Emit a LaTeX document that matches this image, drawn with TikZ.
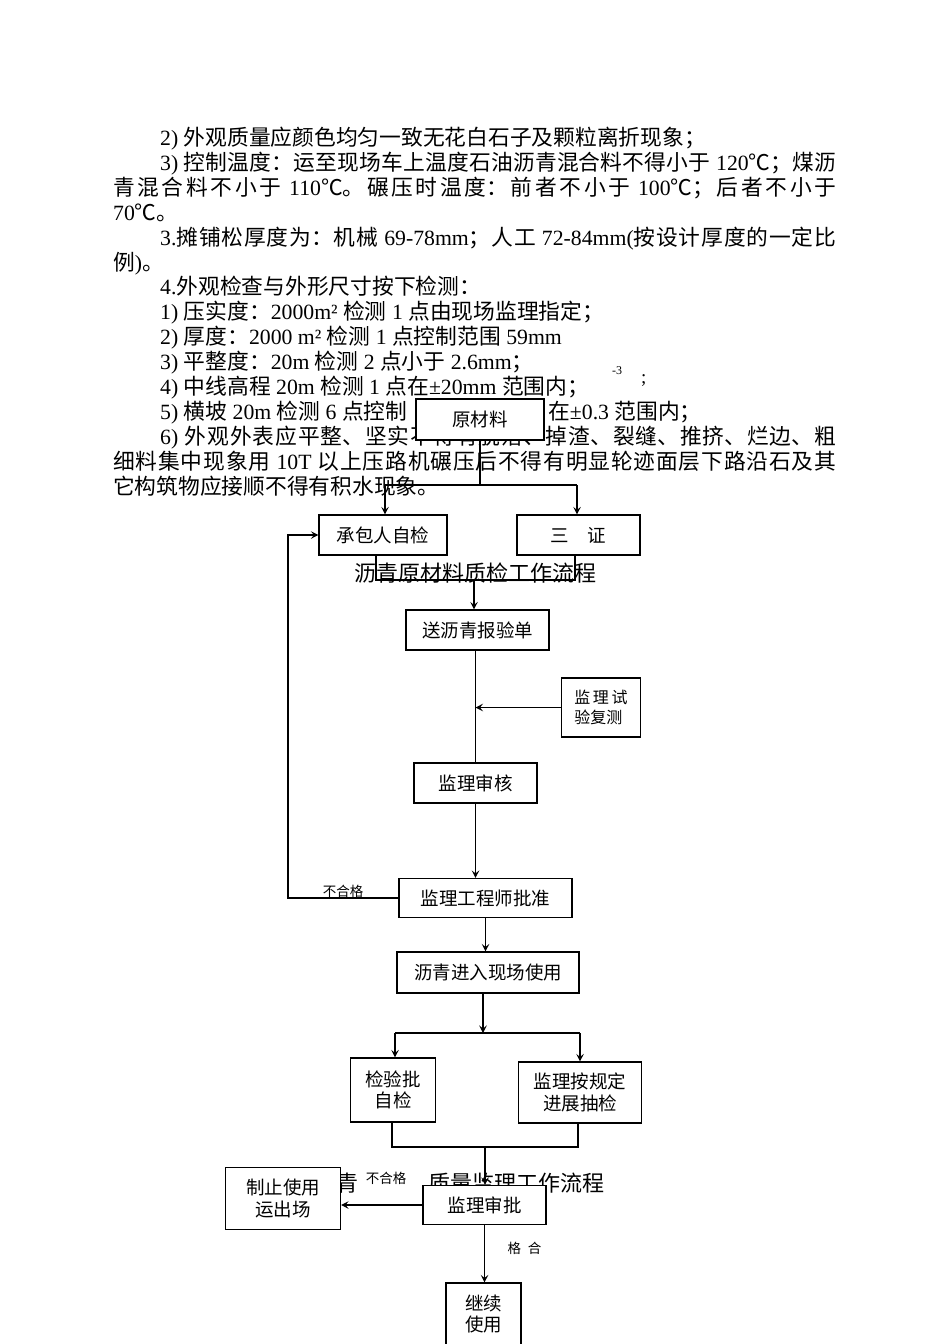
\documentclass[tikz,border=0pt]{standalone}
\usepackage{fontspec}
\setmainfont{Liberation Serif}
\newfontfamily\cjkfont{Noto Sans CJK SC}
\usetikzlibrary{arrows.meta}

\XeTeXlinebreaklocale "zh"
\XeTeXlinebreakskip=0pt plus 3pt

\newcommand\zh[1]{{\cjkfont #1}}
\newcommand\bodyfont{\fontsize{21.75}{24.9}\selectfont}
\newcommand\boxfont{\cjkfont\fontsize{18.5}{21.7}\selectfont}
\newcommand\smallboxfont{\cjkfont\fontsize{16}{20}\selectfont}
\newcommand\notefont{\cjkfont\fontsize{13.5}{15}\selectfont}
\newcommand\headingfont{\cjkfont\fontsize{22}{24}\selectfont}

\tikzset{
  body/.style={anchor=base west, inner sep=0pt, font=\bodyfont},
  fullrow/.style={body, text width=#1, align=justify},
  stepbox/.style={draw, line width=1.1pt, fill=white, inner sep=0pt, font=\boxfont, align=center},
  heading/.style={inner sep=0pt, font=\headingfont},
  note/.style={inner sep=0.5pt, font=\notefont},
  link/.style={line width=1.1pt},
  arrowline/.style={link, -{Stealth[length=7.5pt,width=7.5pt,inset=3pt]}},
}

\begin{document}
\begin{tikzpicture}[x=1pt,y=-1pt]
 \fill[white] (0,0) rectangle (950,1344) ;
 \useasboundingbox (0,0) rectangle (950,1344) ;

 % text of the page
 \node[body] (row1) at (160,145.5) {2) \zh{外观质量应颜色均匀一致无花白石子及颗粒离折现象；}} ;
 \node[fullrow=676pt] (row2) at (160,170.4) {\parfillskip=0pt\relax 3) \zh{控制温度：运至现场车上温度石油沥青混合料不得小于} 120\zh{℃；煤沥}\par} ;
 \node[fullrow=723pt] (row3) at (113,195.3) {\parfillskip=0pt\relax \zh{青混合料不小于} 110\zh{℃。碾压时温度：前者不小于} 100\zh{℃；后者不小于}\par} ;
 \node[body] (row4) at (113,220.2) {70\zh{℃。}} ;
 \node[fullrow=676pt] (row5) at (160,245.1) {\parfillskip=0pt\relax 3.\zh{摊铺松厚度为：机械} 69-78mm\zh{；人工} 72-84mm(\zh{按设计厚度的一定比}\par} ;
 \node[body] (row6) at (113,270) {\zh{例})\zh{。}} ;
 \node[body] (row7) at (160,294.9) {4.\zh{外观检查与外形尺寸按下检测：}} ;
 \node[body] (row8) at (160,319.8) {1) \zh{压实度：}2000m² \zh{检测} 1 \zh{点由现场监理指定；}} ;
 \node[body] (row9) at (160,344.7) {2) \zh{厚度：}2000 m² \zh{检测} 1 \zh{点控制范围} 59mm} ;
 \node[body] (row10) at (160,369.6) {3) \zh{平整度：}20m \zh{检测} 2 \zh{点小于} 2.6mm\zh{；}} ;
 \node[body] (row11) at (160,394.5) {4) \zh{中线高程} 20m \zh{检测} 1 \zh{点在}±20mm \zh{范围内；}} ;
 \node[body] (row12a) at (160,419.4) {5) \zh{横坡} 20m \zh{检测} 6 \zh{点控制}} ;
 \node[body] (row12b) at (548,419.4) {\zh{在}±0.3 \zh{范围内；}} ;
 \node[fullrow=676pt] (row13) at (160,444.3) {\parfillskip=0pt\relax 6) \zh{外观外表应平整、坚实不得有脱落、掉渣、裂缝、推挤、烂边、粗}\par} ;
 \node[fullrow=723pt] (row14) at (113,469.2) {\parfillskip=0pt\relax \zh{细料集中现象用} 10T \zh{以上压路机碾压后不得有明显轮迹面层下路沿石及其}\par} ;
 \node[body] (row15) at (113,494.1) {\zh{它构筑物应接顺不得有积水现象。}} ;
 \node[body, font=\fontsize{12}{14}\selectfont] (exp) at (612,374) {-3} ;
 \node[body, font=\fontsize{19}{20}\selectfont] (semi) at (641,383) {;} ;

 % titles
 \node[heading] (title1) at (475,573) {沥青原材料质检工作流程} ;
 \node[heading] (title2a) at (347,1183) {青} ;
 \node[heading] (title2b) at (516,1183) {质量监理工作流程} ;

 % boxes
 \node[stepbox, minimum width=128pt, minimum height=41pt] (raw) at (480,419.5) {原材料} ;
 \node[stepbox, minimum width=128pt, minimum height=40pt] (self) at (383,535) {承包人自检} ;
 \node[stepbox, minimum width=123pt, minimum height=40pt] (cert) at (578.5,535) {三\hspace{1em}证} ;
 \node[stepbox, minimum width=143pt, minimum height=40pt] (send) at (477.5,630) {送沥青报验单} ;
 \node[stepbox, minimum width=79pt, minimum height=59pt, align=left, font=\smallboxfont] (retest) at (601,707.5) {监\,理\,试\\验复测} ;
 \node[stepbox, minimum width=123pt, minimum height=40pt] (review) at (475.5,783) {监理审核} ;
 \node[stepbox, minimum width=173pt, minimum height=39pt] (approve) at (485.5,898) {监理工程师批准} ;
 \node[stepbox, minimum width=182pt, minimum height=41pt] (enter) at (488,972.5) {沥青进入现场使用} ;
 \node[stepbox, minimum width=85pt, minimum height=64pt] (batch) at (393,1090) {检验批\\自检} ;
 \node[stepbox, minimum width=123pt, minimum height=61pt] (spot) at (580,1092.5) {监理按规定\\进展抽检} ;
 \node[stepbox, minimum width=123pt, minimum height=39pt] (final) at (484.5,1205) {监理审批} ;
 \node[stepbox, minimum width=115pt, minimum height=62pt] (stop) at (283,1198.5) {制止使用\\运出场} ;
 \node[stepbox, minimum width=75pt, minimum height=62pt] (cont) at (483.5,1314) {继续\\使用} ;

 % connectors
 \coordinate (splitL) at (385,485) ;
 \coordinate (splitR) at (577,485) ;
 \draw[link] (raw.south) -- (raw.south |- splitL) ;
 \draw[link] (splitL) -- (splitR) ;
 \draw[arrowline] (splitL) -- (splitL |- self.north) ;
 \draw[arrowline] (splitR) -- (splitR |- cert.north) ;

 \coordinate (joinL) at (376,580) ;
 \coordinate (joinR) at (575,580) ;
 \coordinate (joinC) at (474,580) ;
 \draw[link] (joinL |- self.south) -- (joinL) -- (joinR) -- (joinR |- cert.south) ;
 \draw[arrowline] (joinC) -- (joinC |- send.north) ;

 \draw[link] (review.north |- send.south) -- (review.north) ;
 \draw[arrowline] (retest.west) -- (retest.west -| review.north) ;
 \draw[arrowline] (review.south) -- (review.south |- approve.north) ;

 \coordinate (loop) at (288,700) ;
 \draw[arrowline] (approve.west) -- node[note, above=-1pt] (fail1) {不合格} (approve.west -| loop) -- (loop |- self.west) -- (self.west) ;

 \coordinate (fork) at (483,1033) ;
 \coordinate (forkL) at (395,1033) ;
 \coordinate (forkR) at (580,1033) ;
 \draw[arrowline] (approve.south) -- (approve.south |- enter.north) ;
 \draw[arrowline] (fork |- enter.south) -- (fork) ;
 \draw[link] (forkL) -- (forkR) ;
 \draw[arrowline] (forkL) -- (forkL |- batch.north) ;
 \draw[arrowline] (forkR) -- (forkR |- spot.north) ;

 \coordinate (meetL) at (392,1147) ;
 \coordinate (meetR) at (578,1147) ;
 \coordinate (meetC) at (485,1147) ;
 \draw[link] (meetL |- batch.south) -- (meetL) -- (meetR) -- (meetR |- spot.south) ;
 \draw[arrowline] (meetC) -- (meetC |- final.north) ;

 \node[note, fill=white] (fail2) at (386,1178) {不合格} ;
 \draw[arrowline] (final.west) -- (final.west -| stop.east) ;
 \draw[arrowline] (final.south) -- node[note, pos=0.4, right=22pt] (pass) {格\hspace{0.5em}合} (final.south |- cont.north) ;

 \end{tikzpicture}
\end{document}
